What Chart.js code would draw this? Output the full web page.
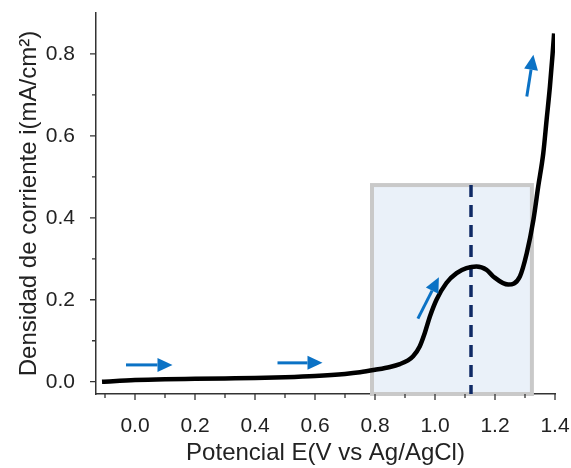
<!DOCTYPE html>
<html>
<head>
<meta charset="utf-8">
<script src="https://cdn.jsdelivr.net/npm/chart.js@4/dist/chart.umd.min.js"></script>
<style>
  html, body { margin: 0; padding: 0; background: #fff; }
  canvas { display: block; }
</style>
</head>
<body>
<canvas id="grafico" width="571" height="468"></canvas>
<script>
// curva de voltametria
const potencial = [-0.11, 0.0, 0.1, 0.2, 0.3, 0.4, 0.5, 0.6, 0.7, 0.75, 0.8, 0.85, 0.883, 0.91, 0.927, 0.949, 0.966, 0.983, 1.005, 1.038, 1.072, 1.105, 1.138, 1.172, 1.194, 1.244, 1.283, 1.306, 1.328, 1.344, 1.361, 1.372, 1.383, 1.392, 1.397];
const densidad = [0.0, 0.004, 0.006, 0.007, 0.008, 0.009, 0.011, 0.014, 0.019, 0.023, 0.029, 0.036, 0.043, 0.052, 0.062, 0.086, 0.119, 0.159, 0.2, 0.241, 0.265, 0.277, 0.281, 0.273, 0.257, 0.237, 0.257, 0.314, 0.395, 0.476, 0.558, 0.639, 0.72, 0.80, 0.85];

const ticksX = [0.0, 0.2, 0.4, 0.6, 0.8, 1.0, 1.2, 1.4];
const menoresX = [-0.1, 0.1, 0.3, 0.5, 0.7, 0.9, 1.1, 1.3];
const ticksY = [0.0, 0.2, 0.4, 0.6, 0.8];
const menoresY = [0.1, 0.3, 0.5, 0.7];

// zona sombreada y pico
const zonaX = [0.79, 1.323];
const zonaTope = 0.48;
const picoX = 1.12;

// flechas: [x cola, y cola, x punta, y punta]
const flechas = [
  [-0.03, 0.041, 0.125, 0.041],
  [0.475, 0.046, 0.625, 0.046],
  [0.943, 0.154, 1.013, 0.255],
  [1.306, 0.696, 1.328, 0.798]
];

const fuente = "'Liberation Sans', Arial, sans-serif";

const extras = {
  id: 'extras',
  beforeDatasetsDraw(chart) {
    const ctx = chart.ctx;
    const x = chart.scales.x, y = chart.scales.y;
    const x0 = x.getPixelForValue(zonaX[0]);
    const x1 = x.getPixelForValue(zonaX[1]);
    const yt = y.getPixelForValue(zonaTope);
    const yb = chart.chartArea.bottom;
    ctx.save();
    ctx.fillStyle = '#eaf1f9';
    ctx.fillRect(x0, yt, x1 - x0, yb - yt);
    ctx.strokeStyle = '#c9c9c9';
    ctx.lineWidth = 4;
    ctx.strokeRect(x0, yt, x1 - x0, yb - yt);
    // linea punteada del pico
    const xp = x.getPixelForValue(picoX);
    ctx.strokeStyle = '#0f2a66';
    ctx.lineWidth = 3.5;
    ctx.setLineDash([12, 8]);
    ctx.beginPath();
    ctx.moveTo(xp, yt);
    ctx.lineTo(xp, yb);
    ctx.stroke();
    ctx.restore();
  },
  afterDraw(chart) {
    const ctx = chart.ctx;
    const x = chart.scales.x, y = chart.scales.y;
    const a = chart.chartArea;
    ctx.save();
    // marcas de los ejes
    ctx.strokeStyle = '#333';
    ctx.lineWidth = 1.3;
    ctx.beginPath();
    ticksX.forEach(v => { const p = x.getPixelForValue(v); ctx.moveTo(p, a.bottom); ctx.lineTo(p, a.bottom + 6); });
    menoresX.forEach(v => { const p = x.getPixelForValue(v); ctx.moveTo(p, a.bottom); ctx.lineTo(p, a.bottom + 4); });
    ticksY.forEach(v => { const p = y.getPixelForValue(v); ctx.moveTo(a.left, p); ctx.lineTo(a.left - 6, p); });
    menoresY.forEach(v => { const p = y.getPixelForValue(v); ctx.moveTo(a.left, p); ctx.lineTo(a.left - 4, p); });
    ctx.stroke();
    // flechas azules
    ctx.strokeStyle = '#0b72c5';
    ctx.fillStyle = '#0b72c5';
    ctx.lineWidth = 3;
    flechas.forEach(f => {
      const xa = x.getPixelForValue(f[0]), ya = y.getPixelForValue(f[1]);
      const xb = x.getPixelForValue(f[2]), yb = y.getPixelForValue(f[3]);
      const ang = Math.atan2(yb - ya, xb - xa);
      const largo = 15, ancho = 7;
      const xc = xb - largo * Math.cos(ang), yc = yb - largo * Math.sin(ang);
      ctx.beginPath();
      ctx.moveTo(xa, ya);
      ctx.lineTo(xc, yc);
      ctx.stroke();
      ctx.beginPath();
      ctx.moveTo(xb, yb);
      ctx.lineTo(xc + ancho * Math.sin(ang), yc - ancho * Math.cos(ang));
      ctx.lineTo(xc - ancho * Math.sin(ang), yc + ancho * Math.cos(ang));
      ctx.closePath();
      ctx.fill();
    });
    ctx.restore();
  }
};

new Chart(document.getElementById('grafico').getContext('2d'), {
  type: 'scatter',
  data: {
    datasets: [{
      data: potencial.map((v, i) => ({x: v, y: densidad[i]})),
      showLine: true,
      borderColor: '#000',
      borderWidth: 4.5,
      pointRadius: 0,
      cubicInterpolationMode: 'monotone'
    }]
  },
  options: {
    responsive: false,
    animation: false,
    layout: { padding: 0 },
    plugins: { legend: { display: false }, tooltip: { enabled: false } },
    scales: {
      x: {
        type: 'linear',
        min: -0.13,
        max: 1.4,
        afterBuildTicks: s => { s.ticks = ticksX.map(v => ({value: v})); },
        afterFit: s => { s.height = 74; s.paddingLeft = 0; s.paddingRight = 16; },
        grid: { display: false },
        border: { display: true, color: '#333', width: 1.5 },
        ticks: {
          padding: 12,
          color: '#222',
          font: { family: fuente, size: 21 },
          maxRotation: 0,
          callback: v => v.toFixed(1)
        },
        title: {
          display: true,
          text: 'Potencial E(V vs Ag/AgCl)',
          color: '#222',
          font: { family: fuente, size: 24 },
          padding: 0
        }
      },
      y: {
        type: 'linear',
        min: -0.03,
        max: 0.9,
        afterBuildTicks: s => { s.ticks = ticksY.map(v => ({value: v})); },
        afterFit: s => { s.width = 96; s.paddingTop = 13; s.paddingBottom = 0; },
        grid: { display: false },
        border: { display: true, color: '#333', width: 1.5 },
        ticks: {
          padding: 13,
          color: '#222',
          font: { family: fuente, size: 21 },
          callback: v => v.toFixed(1)
        },
        title: {
          display: true,
          text: 'Densidad de corriente i(mA/cm²)',
          color: '#222',
          font: { family: fuente, size: 24 },
          padding: { top: 15, bottom: 0 }
        }
      }
    }
  },
  plugins: [extras]
});
</script>
</body>
</html>
